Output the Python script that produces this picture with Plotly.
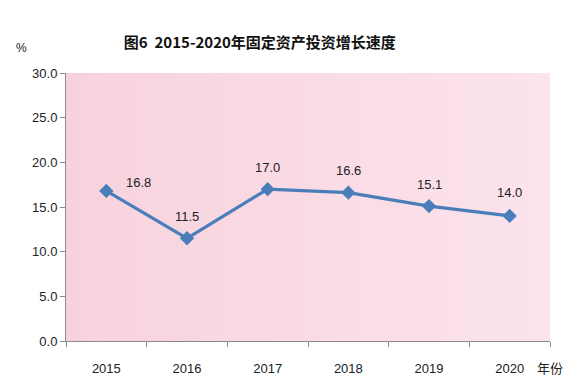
import base64
import plotly.graph_objects as go

years = ["2015", "2016", "2017", "2018", "2019", "2020"]
growth = [16.8, 11.5, 17.0, 16.6, 15.1, 14.0]
label_xshift = [32, 0, 0, 0, 0, 0]
label_yshift = [8, 22, 22, 22, 22, 23]
y_ticks = [0, 5, 10, 15, 20, 25, 30]

svg = ('<svg xmlns="http://www.w3.org/2000/svg" width="100" height="100" preserveAspectRatio="none">'
       '<defs><linearGradient id="g" x1="0" y1="0" x2="1" y2="0">'
       '<stop offset="0" stop-color="#F7D2DD"/><stop offset="1" stop-color="#FCE4EC"/>'
       '</linearGradient></defs><rect width="100" height="100" fill="url(#g)"/></svg>')
bg_src = "data:image/svg+xml;base64," + base64.b64encode(svg.encode()).decode()

fig = go.Figure()
fig.add_trace(go.Scatter(
    x=years, y=growth, mode="lines+markers",
    line=dict(color="#4A7EBB", width=3.2),
    marker=dict(symbol="diamond", size=11, color="#4A7EBB"),
    hoverinfo="skip", showlegend=False,
))

for i, (y, dx, dy) in enumerate(zip(growth, label_xshift, label_yshift)):
    fig.add_annotation(x=i, y=y, xref="x", yref="y", text=f"{y:.1f}", showarrow=False,
                       xshift=dx, yshift=dy,
                       font=dict(family="Liberation Sans, Arial", size=13, color="#222222"))

fig.add_annotation(xref="paper", yref="paper", x=-0.092, y=1.095, text="%",
                   showarrow=False, xanchor="center", yanchor="middle",
                   font=dict(family="Liberation Sans, Arial", size=12, color="#222222"))
fig.add_annotation(xref="paper", yref="paper", x=1.0, y=-0.1, text="年份",
                   showarrow=False, xanchor="left", yanchor="middle", xshift=-15,
                   font=dict(family="Noto Sans CJK SC", size=13, color="#222222"))

fig.update_layout(
    width=584, height=388,
    margin=dict(l=66, r=34, t=73, b=47),
    paper_bgcolor="white",
    plot_bgcolor="rgba(0,0,0,0)",
    title=dict(text="<b>图6  2015-2020年固定资产投资增长速度</b>",
               x=0.445, xanchor="center", y=0.89, yanchor="middle",
               font=dict(family="Noto Sans CJK SC", size=15, color="#111111")),
    images=[dict(source=bg_src, xref="paper", yref="paper", x=0, y=1,
                 sizex=1, sizey=1, xanchor="left", yanchor="top",
                 sizing="stretch", layer="below")],
    xaxis=dict(type="category", range=[-0.5, 5.5], showgrid=False,
               showline=True, linecolor="#8C8C8C", linewidth=1,
               ticks="outside", tickson="boundaries", ticklen=5, tickcolor="#8C8C8C",
               tickfont=dict(family="Liberation Sans, Arial", size=13, color="#222222"),
               ticklabelstandoff=15),
    yaxis=dict(range=[0, 30], tickvals=y_ticks, tickformat=".1f", showgrid=False,
               zeroline=False, showline=True, linecolor="#8C8C8C", linewidth=1,
               ticks="outside", ticklen=5, tickcolor="#8C8C8C",
               tickfont=dict(family="Liberation Sans, Arial", size=13, color="#222222")),
)

fig.write_html("out.html", config={"displayModeBar": False},
               post_script="document.body.style.margin='0';")
